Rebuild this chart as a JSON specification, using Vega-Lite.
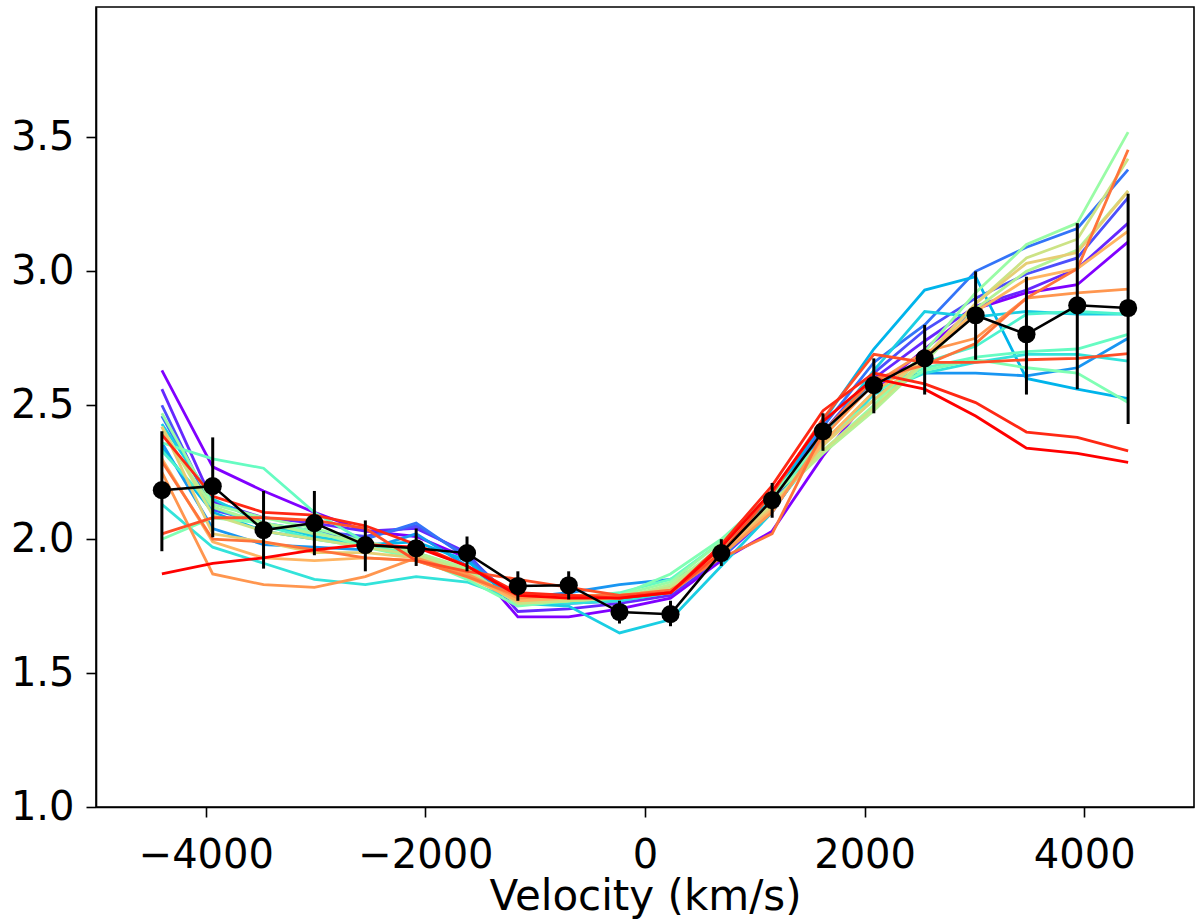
{
  "$schema": "https://vega.github.io/schema/vega-lite/v6.json",
  "autosize": {"type": "none"},
  "width": 1098,
  "height": 800,
  "padding": {"left": 96, "top": 7, "right": 6, "bottom": 114},
  "background": "white",
  "config": {
    "view": {"stroke": "black", "strokeWidth": 1.6},
    "font": "DejaVu Sans",
    "axis": {
      "grid": false,
      "domainColor": "black",
      "domainWidth": 1.6,
      "tickColor": "black",
      "tickWidth": 1.6,
      "tickSize": 10,
      "labelFont": "DejaVu Sans",
      "labelFontSize": 40,
      "labelColor": "black",
      "titleFont": "DejaVu Sans",
      "titleFontSize": 42,
      "titleFontWeight": "normal",
      "titleColor": "black"
    }
  },
  "datasets": {
    "spectra": [
      {"s":"s00","v":-4400,"f":2.63},{"s":"s00","v":-3937,"f":2.27},{"s":"s00","v":-3474,"f":2.18},{"s":"s00","v":-3011,"f":2.10},{"s":"s00","v":-2547,"f":2.03},{"s":"s00","v":-2084,"f":2.01},{"s":"s00","v":-1621,"f":1.93},{"s":"s00","v":-1158,"f":1.71},{"s":"s00","v":-695,"f":1.71},{"s":"s00","v":-232,"f":1.74},{"s":"s00","v":232,"f":1.78},{"s":"s00","v":695,"f":1.92},{"s":"s00","v":1158,"f":2.03},{"s":"s00","v":1621,"f":2.31},{"s":"s00","v":2084,"f":2.55},{"s":"s00","v":2547,"f":2.71},{"s":"s00","v":3011,"f":2.86},{"s":"s00","v":3474,"f":2.92},{"s":"s00","v":3937,"f":2.95},{"s":"s00","v":4400,"f":3.11},
      {"s":"s01","v":-4400,"f":2.56},{"s":"s01","v":-3937,"f":2.14},{"s":"s01","v":-3474,"f":2.08},{"s":"s01","v":-3011,"f":2.06},{"s":"s01","v":-2547,"f":2.03},{"s":"s01","v":-2084,"f":2.04},{"s":"s01","v":-1621,"f":1.95},{"s":"s01","v":-1158,"f":1.73},{"s":"s01","v":-695,"f":1.74},{"s":"s01","v":-232,"f":1.76},{"s":"s01","v":232,"f":1.79},{"s":"s01","v":695,"f":1.93},{"s":"s01","v":1158,"f":2.10},{"s":"s01","v":1621,"f":2.38},{"s":"s01","v":2084,"f":2.60},{"s":"s01","v":2547,"f":2.74},{"s":"s01","v":3011,"f":2.87},{"s":"s01","v":3474,"f":2.93},{"s":"s01","v":3937,"f":3.01},{"s":"s01","v":4400,"f":3.18},
      {"s":"s02","v":-4400,"f":2.50},{"s":"s02","v":-3937,"f":2.11},{"s":"s02","v":-3474,"f":2.06},{"s":"s02","v":-3011,"f":2.03},{"s":"s02","v":-2547,"f":2.01},{"s":"s02","v":-2084,"f":2.05},{"s":"s02","v":-1621,"f":1.94},{"s":"s02","v":-1158,"f":1.76},{"s":"s02","v":-695,"f":1.76},{"s":"s02","v":-232,"f":1.77},{"s":"s02","v":232,"f":1.80},{"s":"s02","v":695,"f":1.94},{"s":"s02","v":1158,"f":2.13},{"s":"s02","v":1621,"f":2.40},{"s":"s02","v":2084,"f":2.62},{"s":"s02","v":2547,"f":2.78},{"s":"s02","v":3011,"f":2.90},{"s":"s02","v":3474,"f":2.99},{"s":"s02","v":3937,"f":3.05},{"s":"s02","v":4400,"f":3.275},
      {"s":"s03","v":-4400,"f":2.46},{"s":"s03","v":-3937,"f":2.12},{"s":"s03","v":-3474,"f":2.05},{"s":"s03","v":-3011,"f":2.02},{"s":"s03","v":-2547,"f":2.00},{"s":"s03","v":-2084,"f":2.06},{"s":"s03","v":-1621,"f":1.93},{"s":"s03","v":-1158,"f":1.77},{"s":"s03","v":-695,"f":1.77},{"s":"s03","v":-232,"f":1.78},{"s":"s03","v":232,"f":1.81},{"s":"s03","v":695,"f":1.93},{"s":"s03","v":1158,"f":2.15},{"s":"s03","v":1621,"f":2.42},{"s":"s03","v":2084,"f":2.66},{"s":"s03","v":2547,"f":2.80},{"s":"s03","v":3011,"f":3.00},{"s":"s03","v":3474,"f":3.09},{"s":"s03","v":3937,"f":3.16},{"s":"s03","v":4400,"f":3.38},
      {"s":"s04","v":-4400,"f":2.36},{"s":"s04","v":-3937,"f":2.04},{"s":"s04","v":-3474,"f":1.98},{"s":"s04","v":-3011,"f":1.97},{"s":"s04","v":-2547,"f":1.96},{"s":"s04","v":-2084,"f":2.02},{"s":"s04","v":-1621,"f":1.90},{"s":"s04","v":-1158,"f":1.78},{"s":"s04","v":-695,"f":1.80},{"s":"s04","v":-232,"f":1.83},{"s":"s04","v":232,"f":1.85},{"s":"s04","v":695,"f":1.93},{"s":"s04","v":1158,"f":2.12},{"s":"s04","v":1621,"f":2.39},{"s":"s04","v":2084,"f":2.59},{"s":"s04","v":2547,"f":2.62},{"s":"s04","v":3011,"f":2.62},{"s":"s04","v":3474,"f":2.61},{"s":"s04","v":3937,"f":2.64},{"s":"s04","v":4400,"f":2.75},
      {"s":"s05","v":-4400,"f":2.34},{"s":"s05","v":-3937,"f":2.10},{"s":"s05","v":-3474,"f":2.03},{"s":"s05","v":-3011,"f":2.00},{"s":"s05","v":-2547,"f":1.98},{"s":"s05","v":-2084,"f":1.99},{"s":"s05","v":-1621,"f":1.92},{"s":"s05","v":-1158,"f":1.76},{"s":"s05","v":-695,"f":1.78},{"s":"s05","v":-232,"f":1.77},{"s":"s05","v":232,"f":1.82},{"s":"s05","v":695,"f":1.96},{"s":"s05","v":1158,"f":2.15},{"s":"s05","v":1621,"f":2.44},{"s":"s05","v":2084,"f":2.71},{"s":"s05","v":2547,"f":2.93},{"s":"s05","v":3011,"f":2.98},{"s":"s05","v":3474,"f":2.60},{"s":"s05","v":3937,"f":2.56},{"s":"s05","v":4400,"f":2.525},
      {"s":"s06","v":-4400,"f":2.43},{"s":"s06","v":-3937,"f":2.15},{"s":"s06","v":-3474,"f":2.06},{"s":"s06","v":-3011,"f":2.01},{"s":"s06","v":-2547,"f":1.98},{"s":"s06","v":-2084,"f":1.95},{"s":"s06","v":-1621,"f":1.88},{"s":"s06","v":-1158,"f":1.76},{"s":"s06","v":-695,"f":1.75},{"s":"s06","v":-232,"f":1.65},{"s":"s06","v":232,"f":1.70},{"s":"s06","v":695,"f":1.90},{"s":"s06","v":1158,"f":2.10},{"s":"s06","v":1621,"f":2.38},{"s":"s06","v":2084,"f":2.63},{"s":"s06","v":2547,"f":2.85},{"s":"s06","v":3011,"f":2.83},{"s":"s06","v":3474,"f":2.85},{"s":"s06","v":3937,"f":2.84},{"s":"s06","v":4400,"f":2.84},
      {"s":"s07","v":-4400,"f":2.13},{"s":"s07","v":-3937,"f":1.97},{"s":"s07","v":-3474,"f":1.91},{"s":"s07","v":-3011,"f":1.85},{"s":"s07","v":-2547,"f":1.83},{"s":"s07","v":-2084,"f":1.86},{"s":"s07","v":-1621,"f":1.84},{"s":"s07","v":-1158,"f":1.77},{"s":"s07","v":-695,"f":1.76},{"s":"s07","v":-232,"f":1.77},{"s":"s07","v":232,"f":1.80},{"s":"s07","v":695,"f":1.94},{"s":"s07","v":1158,"f":2.11},{"s":"s07","v":1621,"f":2.35},{"s":"s07","v":2084,"f":2.54},{"s":"s07","v":2547,"f":2.62},{"s":"s07","v":3011,"f":2.66},{"s":"s07","v":3474,"f":2.69},{"s":"s07","v":3937,"f":2.69},{"s":"s07","v":4400,"f":2.665},
      {"s":"s08","v":-4400,"f":2.33},{"s":"s08","v":-3937,"f":2.12},{"s":"s08","v":-3474,"f":2.05},{"s":"s08","v":-3011,"f":2.00},{"s":"s08","v":-2547,"f":1.97},{"s":"s08","v":-2084,"f":1.94},{"s":"s08","v":-1621,"f":1.88},{"s":"s08","v":-1158,"f":1.76},{"s":"s08","v":-695,"f":1.77},{"s":"s08","v":-232,"f":1.78},{"s":"s08","v":232,"f":1.82},{"s":"s08","v":695,"f":1.95},{"s":"s08","v":1158,"f":2.12},{"s":"s08","v":1621,"f":2.36},{"s":"s08","v":2084,"f":2.52},{"s":"s08","v":2547,"f":2.66},{"s":"s08","v":3011,"f":2.72},{"s":"s08","v":3474,"f":2.84},{"s":"s08","v":3937,"f":2.85},{"s":"s08","v":4400,"f":2.84},
      {"s":"s09","v":-4400,"f":2.36},{"s":"s09","v":-3937,"f":2.30},{"s":"s09","v":-3474,"f":2.265},{"s":"s09","v":-3011,"f":2.10},{"s":"s09","v":-2547,"f":1.99},{"s":"s09","v":-2084,"f":1.93},{"s":"s09","v":-1621,"f":1.87},{"s":"s09","v":-1158,"f":1.77},{"s":"s09","v":-695,"f":1.78},{"s":"s09","v":-232,"f":1.80},{"s":"s09","v":232,"f":1.85},{"s":"s09","v":695,"f":1.99},{"s":"s09","v":1158,"f":2.16},{"s":"s09","v":1621,"f":2.36},{"s":"s09","v":2084,"f":2.55},{"s":"s09","v":2547,"f":2.64},{"s":"s09","v":3011,"f":2.68},{"s":"s09","v":3474,"f":2.70},{"s":"s09","v":3937,"f":2.71},{"s":"s09","v":4400,"f":2.765},
      {"s":"s10","v":-4400,"f":2.00},{"s":"s10","v":-3937,"f":2.08},{"s":"s10","v":-3474,"f":2.06},{"s":"s10","v":-3011,"f":2.03},{"s":"s10","v":-2547,"f":1.97},{"s":"s10","v":-2084,"f":1.93},{"s":"s10","v":-1621,"f":1.85},{"s":"s10","v":-1158,"f":1.75},{"s":"s10","v":-695,"f":1.77},{"s":"s10","v":-232,"f":1.79},{"s":"s10","v":232,"f":1.87},{"s":"s10","v":695,"f":2.00},{"s":"s10","v":1158,"f":2.17},{"s":"s10","v":1621,"f":2.37},{"s":"s10","v":2084,"f":2.52},{"s":"s10","v":2547,"f":2.63},{"s":"s10","v":3011,"f":2.67},{"s":"s10","v":3474,"f":2.64},{"s":"s10","v":3937,"f":2.62},{"s":"s10","v":4400,"f":2.51},
      {"s":"s11","v":-4400,"f":2.47},{"s":"s11","v":-3937,"f":2.13},{"s":"s11","v":-3474,"f":2.08},{"s":"s11","v":-3011,"f":2.04},{"s":"s11","v":-2547,"f":1.99},{"s":"s11","v":-2084,"f":1.95},{"s":"s11","v":-1621,"f":1.89},{"s":"s11","v":-1158,"f":1.76},{"s":"s11","v":-695,"f":1.77},{"s":"s11","v":-232,"f":1.79},{"s":"s11","v":232,"f":1.84},{"s":"s11","v":695,"f":1.99},{"s":"s11","v":1158,"f":2.16},{"s":"s11","v":1621,"f":2.33},{"s":"s11","v":2084,"f":2.50},{"s":"s11","v":2547,"f":2.70},{"s":"s11","v":3011,"f":2.92},{"s":"s11","v":3474,"f":3.10},{"s":"s11","v":3937,"f":3.18},{"s":"s11","v":4400,"f":3.52},
      {"s":"s12","v":-4400,"f":2.40},{"s":"s12","v":-3937,"f":2.12},{"s":"s12","v":-3474,"f":2.06},{"s":"s12","v":-3011,"f":2.02},{"s":"s12","v":-2547,"f":1.99},{"s":"s12","v":-2084,"f":1.95},{"s":"s12","v":-1621,"f":1.89},{"s":"s12","v":-1158,"f":1.76},{"s":"s12","v":-695,"f":1.77},{"s":"s12","v":-232,"f":1.78},{"s":"s12","v":232,"f":1.83},{"s":"s12","v":695,"f":1.97},{"s":"s12","v":1158,"f":2.14},{"s":"s12","v":1621,"f":2.32},{"s":"s12","v":2084,"f":2.48},{"s":"s12","v":2547,"f":2.66},{"s":"s12","v":3011,"f":2.86},{"s":"s12","v":3474,"f":3.00},{"s":"s12","v":3937,"f":3.08},{"s":"s12","v":4400,"f":3.30},
      {"s":"s13","v":-4400,"f":2.42},{"s":"s13","v":-3937,"f":2.09},{"s":"s13","v":-3474,"f":2.03},{"s":"s13","v":-3011,"f":2.00},{"s":"s13","v":-2547,"f":1.97},{"s":"s13","v":-2084,"f":1.94},{"s":"s13","v":-1621,"f":1.88},{"s":"s13","v":-1158,"f":1.76},{"s":"s13","v":-695,"f":1.77},{"s":"s13","v":-232,"f":1.78},{"s":"s13","v":232,"f":1.82},{"s":"s13","v":695,"f":1.96},{"s":"s13","v":1158,"f":2.13},{"s":"s13","v":1621,"f":2.33},{"s":"s13","v":2084,"f":2.49},{"s":"s13","v":2547,"f":2.67},{"s":"s13","v":3011,"f":2.88},{"s":"s13","v":3474,"f":3.05},{"s":"s13","v":3937,"f":3.12},{"s":"s13","v":4400,"f":3.42},
      {"s":"s14","v":-4400,"f":2.42},{"s":"s14","v":-3937,"f":2.02},{"s":"s14","v":-3474,"f":1.99},{"s":"s14","v":-3011,"f":1.95},{"s":"s14","v":-2547,"f":1.95},{"s":"s14","v":-2084,"f":1.93},{"s":"s14","v":-1621,"f":1.87},{"s":"s14","v":-1158,"f":1.77},{"s":"s14","v":-695,"f":1.78},{"s":"s14","v":-232,"f":1.79},{"s":"s14","v":232,"f":1.81},{"s":"s14","v":695,"f":1.95},{"s":"s14","v":1158,"f":2.12},{"s":"s14","v":1621,"f":2.35},{"s":"s14","v":2084,"f":2.52},{"s":"s14","v":2547,"f":2.68},{"s":"s14","v":3011,"f":2.88},{"s":"s14","v":3474,"f":3.03},{"s":"s14","v":3937,"f":3.07},{"s":"s14","v":4400,"f":3.30},
      {"s":"s15","v":-4400,"f":2.30},{"s":"s15","v":-3937,"f":1.99},{"s":"s15","v":-3474,"f":1.93},{"s":"s15","v":-3011,"f":1.92},{"s":"s15","v":-2547,"f":1.93},{"s":"s15","v":-2084,"f":1.92},{"s":"s15","v":-1621,"f":1.86},{"s":"s15","v":-1158,"f":1.77},{"s":"s15","v":-695,"f":1.78},{"s":"s15","v":-232,"f":1.79},{"s":"s15","v":232,"f":1.80},{"s":"s15","v":695,"f":1.95},{"s":"s15","v":1158,"f":2.11},{"s":"s15","v":1621,"f":2.36},{"s":"s15","v":2084,"f":2.55},{"s":"s15","v":2547,"f":2.68},{"s":"s15","v":3011,"f":2.85},{"s":"s15","v":3474,"f":2.97},{"s":"s15","v":3937,"f":3.01},{"s":"s15","v":4400,"f":3.15},
      {"s":"s16","v":-4400,"f":2.25},{"s":"s16","v":-3937,"f":1.87},{"s":"s16","v":-3474,"f":1.83},{"s":"s16","v":-3011,"f":1.82},{"s":"s16","v":-2547,"f":1.86},{"s":"s16","v":-2084,"f":1.93},{"s":"s16","v":-1621,"f":1.87},{"s":"s16","v":-1158,"f":1.78},{"s":"s16","v":-695,"f":1.79},{"s":"s16","v":-232,"f":1.79},{"s":"s16","v":232,"f":1.80},{"s":"s16","v":695,"f":1.94},{"s":"s16","v":1158,"f":2.10},{"s":"s16","v":1621,"f":2.38},{"s":"s16","v":2084,"f":2.58},{"s":"s16","v":2547,"f":2.70},{"s":"s16","v":3011,"f":2.75},{"s":"s16","v":3474,"f":2.90},{"s":"s16","v":3937,"f":2.92},{"s":"s16","v":4400,"f":2.934},
      {"s":"s17","v":-4400,"f":2.29},{"s":"s17","v":-3937,"f":2.00},{"s":"s17","v":-3474,"f":1.99},{"s":"s17","v":-3011,"f":1.96},{"s":"s17","v":-2547,"f":1.93},{"s":"s17","v":-2084,"f":1.92},{"s":"s17","v":-1621,"f":1.86},{"s":"s17","v":-1158,"f":1.79},{"s":"s17","v":-695,"f":1.79},{"s":"s17","v":-232,"f":1.79},{"s":"s17","v":232,"f":1.81},{"s":"s17","v":695,"f":1.93},{"s":"s17","v":1158,"f":2.02},{"s":"s17","v":1621,"f":2.40},{"s":"s17","v":2084,"f":2.60},{"s":"s17","v":2547,"f":2.65},{"s":"s17","v":3011,"f":2.73},{"s":"s17","v":3474,"f":2.90},{"s":"s17","v":3937,"f":3.01},{"s":"s17","v":4400,"f":3.454},
      {"s":"s18","v":-4400,"f":2.02},{"s":"s18","v":-3937,"f":2.08},{"s":"s18","v":-3474,"f":2.08},{"s":"s18","v":-3011,"f":2.07},{"s":"s18","v":-2547,"f":2.04},{"s":"s18","v":-2084,"f":1.92},{"s":"s18","v":-1621,"f":1.88},{"s":"s18","v":-1158,"f":1.85},{"s":"s18","v":-695,"f":1.82},{"s":"s18","v":-232,"f":1.79},{"s":"s18","v":232,"f":1.80},{"s":"s18","v":695,"f":1.95},{"s":"s18","v":1158,"f":2.17},{"s":"s18","v":1621,"f":2.45},{"s":"s18","v":2084,"f":2.69},{"s":"s18","v":2547,"f":2.66},{"s":"s18","v":3011,"f":2.66},{"s":"s18","v":3474,"f":2.67},{"s":"s18","v":3937,"f":2.675},{"s":"s18","v":4400,"f":2.693},
      {"s":"s19","v":-4400,"f":2.39},{"s":"s19","v":-3937,"f":2.16},{"s":"s19","v":-3474,"f":2.10},{"s":"s19","v":-3011,"f":2.09},{"s":"s19","v":-2547,"f":2.05},{"s":"s19","v":-2084,"f":1.98},{"s":"s19","v":-1621,"f":1.90},{"s":"s19","v":-1158,"f":1.80},{"s":"s19","v":-695,"f":1.79},{"s":"s19","v":-232,"f":1.78},{"s":"s19","v":232,"f":1.80},{"s":"s19","v":695,"f":1.98},{"s":"s19","v":1158,"f":2.20},{"s":"s19","v":1621,"f":2.48},{"s":"s19","v":2084,"f":2.62},{"s":"s19","v":2547,"f":2.58},{"s":"s19","v":3011,"f":2.51},{"s":"s19","v":3474,"f":2.40},{"s":"s19","v":3937,"f":2.38},{"s":"s19","v":4400,"f":2.33},
      {"s":"s20","v":-4400,"f":1.87},{"s":"s20","v":-3937,"f":1.91},{"s":"s20","v":-3474,"f":1.93},{"s":"s20","v":-3011,"f":1.96},{"s":"s20","v":-2547,"f":1.98},{"s":"s20","v":-2084,"f":1.97},{"s":"s20","v":-1621,"f":1.90},{"s":"s20","v":-1158,"f":1.79},{"s":"s20","v":-695,"f":1.78},{"s":"s20","v":-232,"f":1.78},{"s":"s20","v":232,"f":1.80},{"s":"s20","v":695,"f":1.97},{"s":"s20","v":1158,"f":2.18},{"s":"s20","v":1621,"f":2.44},{"s":"s20","v":2084,"f":2.60},{"s":"s20","v":2547,"f":2.56},{"s":"s20","v":3011,"f":2.46},{"s":"s20","v":3474,"f":2.34},{"s":"s20","v":3937,"f":2.32},{"s":"s20","v":4400,"f":2.287}
    ],
    "mean": [
      {"v":-4400,"f":2.183,"lo":1.955,"hi":2.403},
      {"v":-3937,"f":2.198,"lo":2.007,"hi":2.38},
      {"v":-3474,"f":2.034,"lo":1.89,"hi":2.18},
      {"v":-3011,"f":2.06,"lo":1.94,"hi":2.18},
      {"v":-2547,"f":1.978,"lo":1.88,"hi":2.07},
      {"v":-2084,"f":1.966,"lo":1.9,"hi":2.04},
      {"v":-1621,"f":1.948,"lo":1.88,"hi":2.01},
      {"v":-1158,"f":1.825,"lo":1.77,"hi":1.88},
      {"v":-695,"f":1.828,"lo":1.775,"hi":1.88},
      {"v":-232,"f":1.728,"lo":1.685,"hi":1.77},
      {"v":232,"f":1.72,"lo":1.675,"hi":1.77},
      {"v":695,"f":1.948,"lo":1.9,"hi":2.0},
      {"v":1158,"f":2.146,"lo":2.08,"hi":2.21},
      {"v":1621,"f":2.403,"lo":2.33,"hi":2.47},
      {"v":2084,"f":2.575,"lo":2.47,"hi":2.675},
      {"v":2547,"f":2.675,"lo":2.54,"hi":2.8},
      {"v":3011,"f":2.836,"lo":2.67,"hi":3.0},
      {"v":3474,"f":2.765,"lo":2.54,"hi":2.98},
      {"v":3937,"f":2.873,"lo":2.56,"hi":3.18},
      {"v":4400,"f":2.863,"lo":2.43,"hi":3.29}
    ]
  },
  "encoding": {
    "x": {
      "field": "v", "type": "quantitative",
      "scale": {"domain": [-5000, 5000], "nice": false, "zero": false},
      "axis": {"values": [-4000, -2000, 0, 2000, 4000], "format": "d", "title": "Velocity (km/s)", "labelPadding": 18, "titleBaseline": "alphabetic", "titleY": 102}
    },
    "y": {
      "field": "f", "type": "quantitative",
      "scale": {"domain": [1, 3.987], "nice": false, "zero": false},
      "axis": {"values": [1, 1.5, 2, 2.5, 3, 3.5], "format": ".1f", "title": null, "labelPadding": 12}
    }
  },
  "layer": [
    {
      "data": {"name": "spectra"},
      "mark": {"type": "line", "strokeWidth": 2.8, "clip": true},
      "encoding": {
        "color": {
          "field": "s", "type": "nominal", "legend": null,
          "scale": {
            "domain": ["s00","s01","s02","s03","s04","s05","s06","s07","s08","s09","s10","s11","s12","s13","s14","s15","s16","s17","s18","s19","s20"],
            "range": ["#8000ff","#6628fe","#4d4ffc","#3374f8","#1996f2","#00b4eb","#1acee3","#33e3da","#4df3ce","#66fcc2","#80ffb4","#99fca6","#b3f396","#cce385","#e6ce74","#ffb462","#ff964f","#ff743b","#ff4f28","#ff2814","#ff0000"]
          }
        },
        "order": {"field": "v", "type": "quantitative"}
      }
    },
    {
      "data": {"name": "mean"},
      "mark": {"type": "rule", "color": "black", "strokeWidth": 3},
      "encoding": {
        "y": {"field": "lo", "type": "quantitative"},
        "y2": {"field": "hi"}
      }
    },
    {
      "data": {"name": "mean"},
      "mark": {"type": "line", "color": "black", "strokeWidth": 2.5},
      "encoding": {"order": {"field": "v", "type": "quantitative"}}
    },
    {
      "data": {"name": "mean"},
      "mark": {"type": "circle", "color": "black", "opacity": 1, "size": 330},
      "encoding": {}
    }
  ]
}
